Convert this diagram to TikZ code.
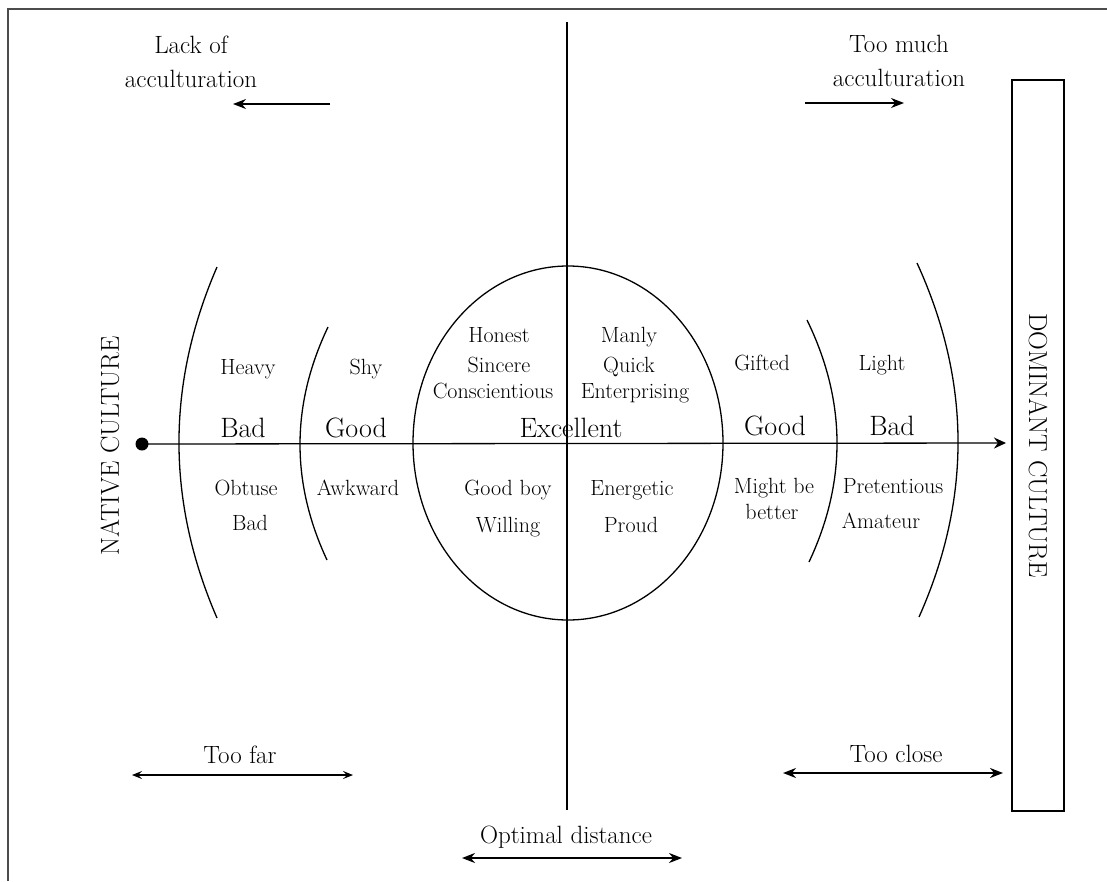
\documentclass[tikz,border=0pt]{standalone}
\usetikzlibrary{arrows.meta}

\begin{document}
\begin{tikzpicture}[x=1pt,y=-1pt,line width=1.3pt]
                \tikzstyle{word}=[anchor=base, inner sep=0pt, font=\fontsize{22}{26}\selectfont]
                \tikzstyle{grade}=[anchor=base, inner sep=0pt, font=\fontsize{28}{32}\selectfont]
                \tikzstyle{head}=[anchor=base, inner sep=0pt, font=\fontsize{25}{30}\selectfont]
                \tikzstyle{side}=[inner sep=0pt, font=\fontsize{26}{30}\selectfont]
                \tikzstyle{tip}=[-{Stealth[length=13pt,width=10pt]}]
                \tikzstyle{twotip}=[{Stealth[length=13pt,width=10pt]}-{Stealth[length=13pt,width=10pt]}]

                \useasboundingbox (0,0) rectangle (1107,881);
                \draw[line width=1.2pt, black!70] (8,881) -- (8,9) -- (1107,9);

                % headings
                \node[head] (lack1) at (191,53) {Lack of};
                \node[head] (lack2) at (191,87) {acculturation};
                \node[head] (much1) at (899,52) {Too much};
                \node[head] (much2) at (899,86) {acculturation};
                \coordinate (la) at (330,104);
                \coordinate (lb) at (233,104);
                \coordinate (ma) at (805,103);
                \coordinate (mb) at (904,103);
                \draw[tip] (la) -- (lb);
                \draw[tip] (ma) -- (mb);

                % the two cultures
                \node[side, rotate=90] (native) at (110,446) {NATIVE CULTURE};
                \node[draw, side, rotate=-90, minimum width=731pt, minimum height=52pt] (dominant) at (1038,445.5) {DOMINANT CULTURE};

                % zones
                \draw (217,267) .. controls (166.3,384) and (166.3,501) .. (217,618);
                \draw (328,327) .. controls (291,404.7) and (290.7,482.3) .. (327,560);
                \draw (807,320) .. controls (846.3,400.7) and (847,481.3) .. (809,562);
                \draw (917,263) .. controls (971,381) and (971.7,499) .. (919,617);
                \draw (568,443) ellipse [x radius=155, y radius=177];
                \coordinate (vtop) at (567,22);
                \coordinate (vbot) at (567,810);
                \draw (vtop) -- (vbot);

                \node[circle, fill, inner sep=0pt, minimum size=13pt] (dot) at (142,444) {};
                \coordinate (axend) at (1006,443);
                \draw[-{Stealth[length=12pt,width=11pt]}] (dot.center) -- (axend);

                % upper words
                \node[word] (heavy) at (248,374) {Heavy};
                \node[word] (shy) at (366,374) {Shy};
                \node[word] (honest) at (499,342) {Honest};
                \node[word] (sincere) at (499,372) {Sincere};
                \node[word] (consc) at (493,398) {Conscientious};
                \node[word] (manly) at (629,342) {Manly};
                \node[word] (quick) at (629,372) {Quick};
                \node[word] (enter) at (635,398) {Enterprising};
                \node[word] (gifted) at (762,370) {Gifted};
                \node[word] (light) at (882,370) {Light};

                \node[grade] (badl) at (243,437) {Bad};
                \node[grade] (goodl) at (356,437) {Good};
                \node[grade] (exc) at (571,437) {Excellent};
                \node[grade] (goodr) at (775,435) {Good};
                \node[grade] (badr) at (892,435) {Bad};

                % lower words
                \node[word] (obtuse) at (246,495) {Obtuse};
                \node[word] (bad) at (250,530) {Bad};
                \node[word] (awkward) at (358,495) {Awkward};
                \node[word] (goodboy) at (508,495) {Good boy};
                \node[word] (willing) at (508,532) {Willing};
                \node[word] (energ) at (632,495) {Energetic};
                \node[word] (proud) at (631,532) {Proud};
                \node[word] (might) at (774,493) {Might be};
                \node[word] (better) at (772,519) {better};
                \node[word] (pret) at (893,493) {Pretentious};
                \node[word] (amat) at (881,528) {Amateur};

                % distances
                \node[head] (far) at (240,763) {Too far};
                \node[head] (close) at (896,762) {Too close};
                \node[head] (optimal) at (566,843) {Optimal distance};
                \coordinate (fa) at (132,775);
                \coordinate (fb) at (353,775);
                \coordinate (ca) at (783,773);
                \coordinate (cb) at (1003,773);
                \coordinate (oa) at (462,858);
                \coordinate (ob) at (682,858);
                \draw[line width=1.1pt, {Stealth[length=10pt,width=8pt,inset=4pt]}-{Stealth[length=10pt,width=8pt,inset=4pt]}] (fa) -- (fb);
                \draw[line width=2pt, twotip] (ca) -- (cb);
                \draw[line width=2pt, twotip] (oa) -- (ob);
            \end{tikzpicture}
\end{document}
